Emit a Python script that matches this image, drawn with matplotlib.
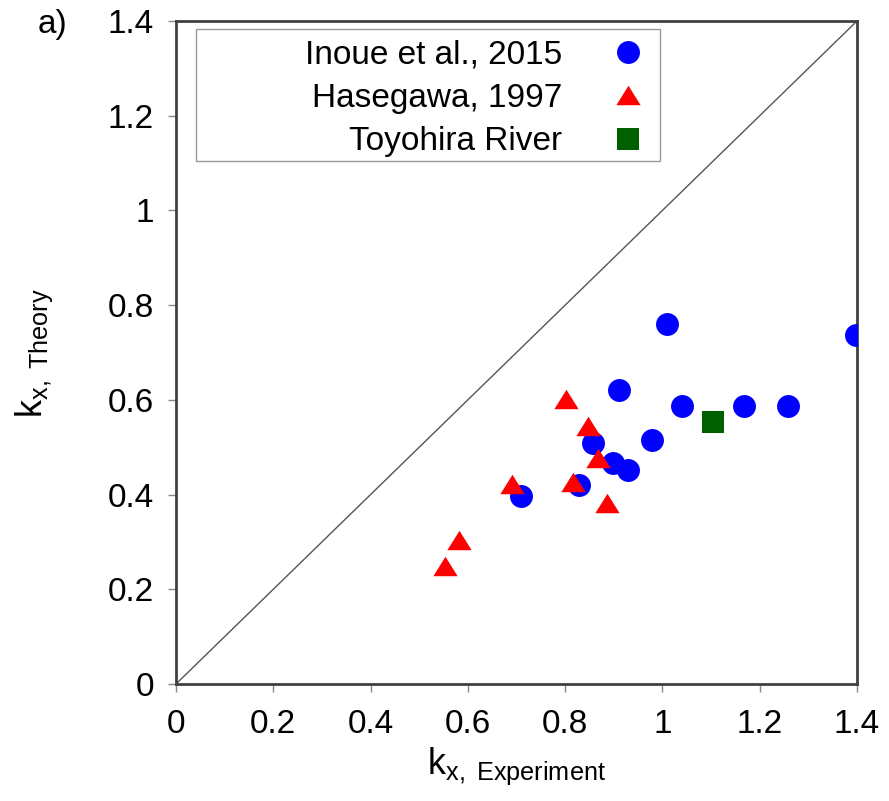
import matplotlib
matplotlib.use("Agg")
import matplotlib.pyplot as plt
from matplotlib.patches import Rectangle

plt.rcParams['font.family'] = ['Liberation Sans', 'DejaVu Sans']
plt.rcParams['mathtext.fontset'] = 'custom'
plt.rcParams['mathtext.rm'] = 'Liberation Sans'
plt.rcParams['mathtext.it'] = 'Liberation Sans'

# Inoue et al., 2015
inoue_x = [1.01, 0.91, 1.04, 0.978, 0.858, 0.898, 0.929, 0.829, 0.71, 1.168, 1.258, 1.397]
inoue_y = [0.76, 0.621, 0.587, 0.515, 0.508, 0.466, 0.452, 0.42, 0.397, 0.587, 0.587, 0.738]

# Hasegawa, 1997
hase_x = [0.802, 0.846, 0.867, 0.817, 0.69, 0.886, 0.582, 0.552]
hase_y = [0.602, 0.545, 0.478, 0.426, 0.422, 0.382, 0.304, 0.249]

# Toyohira River
toyo_x = [1.103]
toyo_y = [0.554]

ticks = [0, 0.2, 0.4, 0.6, 0.8, 1, 1.2, 1.4]
tick_labels = ["0", "0.2", "0.4", "0.6", "0.8", "1", "1.2", "1.4"]

fig = plt.figure(figsize=(8.89, 8.01), dpi=100)
ax = fig.add_axes([176 / 889, 117 / 801, 681 / 889, 663 / 801])

# 1:1 line
ax.plot([0, 1.4], [0, 1.4], color='#555555', lw=1, zorder=1)

tri = [(0, 0.8), (-1, -0.8), (1, -0.8)]
ax.plot(inoue_x, inoue_y, 'o', color='#0000FF', ms=16.5, mew=0,
        label="Inoue et al., 2015", zorder=3)
ax.plot(hase_x, hase_y, ls='none', marker=tri, color='#FF0000', ms=17.5, mew=0,
        label="Hasegawa, 1997", zorder=4)
ax.plot(toyo_x, toyo_y, 's', color='#006000', ms=16.5, mew=0,
        label="Toyohira River", zorder=3)

ax.set_xlim(0, 1.4)
ax.set_ylim(0, 1.4)
ax.set_xticks(ticks)
ax.set_xticklabels(tick_labels)
ax.set_yticks(ticks)
ax.set_yticklabels(tick_labels)
ax.tick_params(direction='out', length=6, width=1, color='#888888', labelsize=24)
ax.tick_params(axis='x', pad=12)
ax.tick_params(axis='y', pad=10)

for s in ax.spines.values():
    s.set_color('#404040')
    s.set_linewidth(2)

ax.set_xlabel(r'k$_{\mathregular{x,\ Experiment}}$', fontsize=26, labelpad=4)
ax.set_ylabel(r'k$_{\mathregular{x,\ Theory}}$', fontsize=26, labelpad=38)

# legend box
ax.add_patch(Rectangle((0.029, 0.789), 0.682, 0.199, transform=ax.transAxes,
                       fill=False, edgecolor='#999999', lw=1, zorder=5))
ax.legend(loc='upper right', bbox_to_anchor=(0.688, 0.972), frameon=False,
          markerfirst=False, fontsize=24, handlelength=1, handletextpad=1.48,
          borderpad=0, borderaxespad=0, labelspacing=0.37, numpoints=1)

fig.text(38 / 889, 1 - 24 / 801, "a)", fontsize=24, ha='left', va='center')

fig.savefig("out.png", dpi=100)
